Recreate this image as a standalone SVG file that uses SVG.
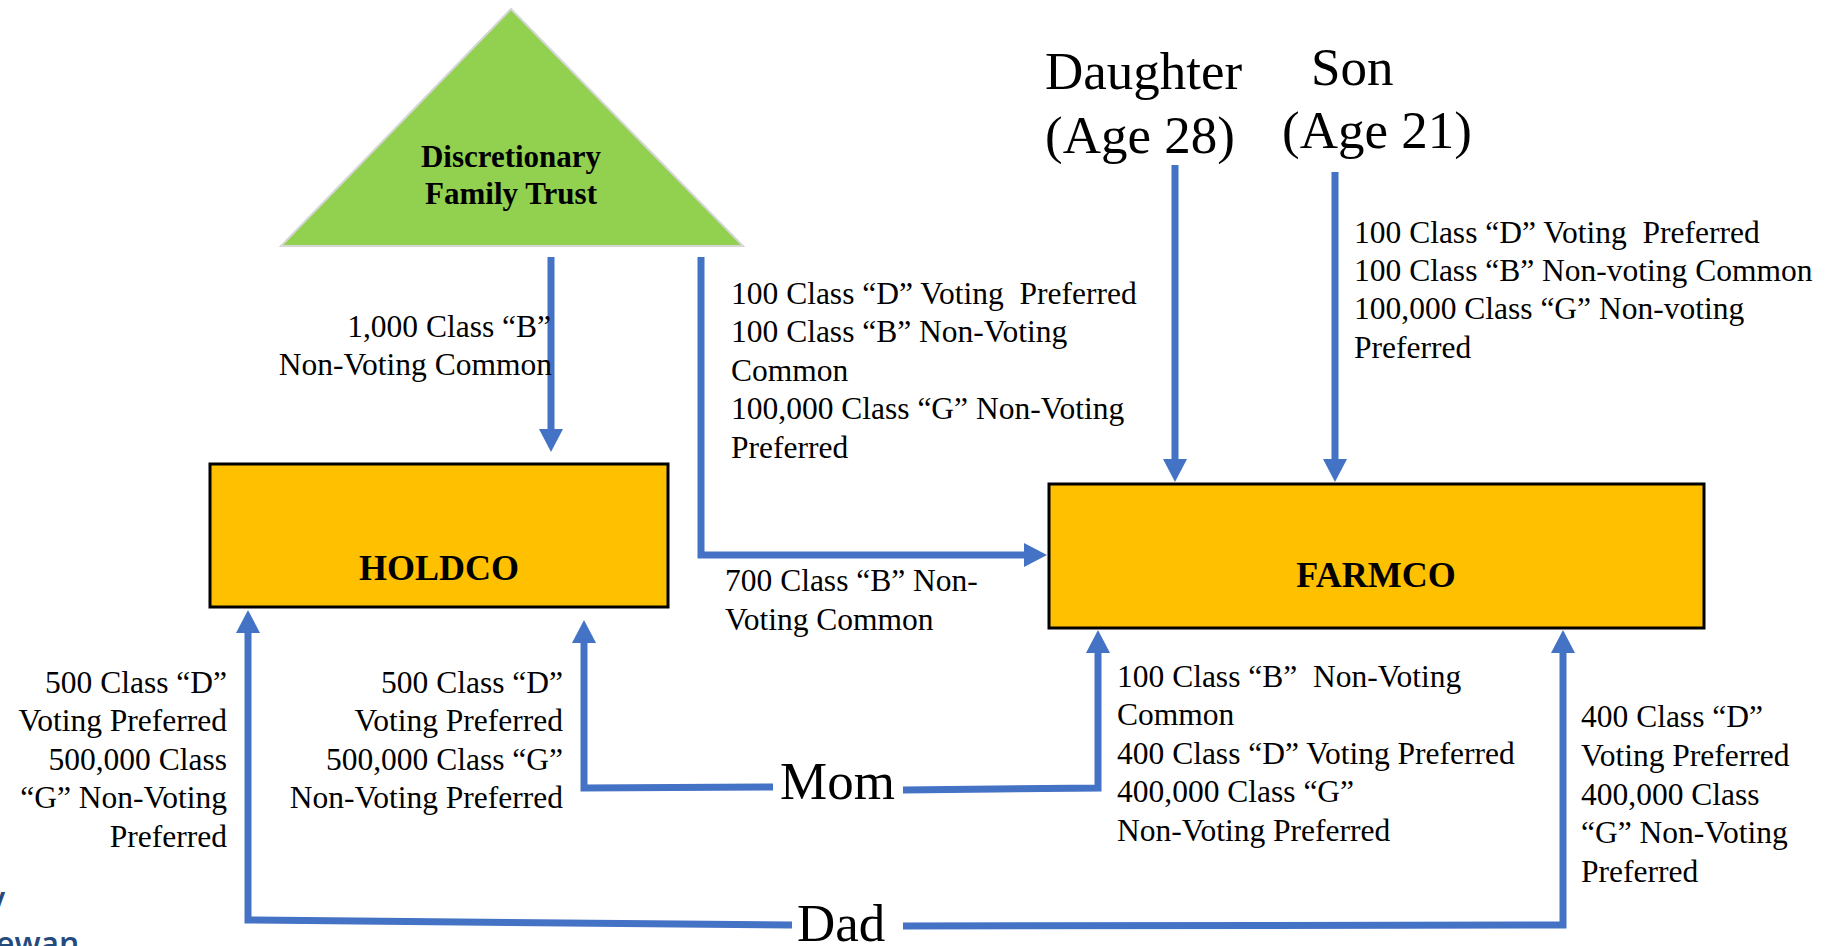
<svg xmlns="http://www.w3.org/2000/svg" width="1834" height="946" viewBox="0 0 1834 946">
<style>
.lbl{font-family:"Liberation Serif","Times New Roman",serif;font-size:31.5px;fill:#000}
.end{text-anchor:end}
.big{font-family:"Liberation Serif","Times New Roman",serif;font-size:53px;fill:#000}
.bold{font-family:"Liberation Serif","Times New Roman",serif;font-weight:bold;fill:#000;text-anchor:middle}
.box{fill:#FFC000;stroke:#000;stroke-width:3}
.con{fill:none;stroke:#4472C4;stroke-width:7;stroke-linejoin:miter}
.logo{font-family:"Open Sans","Liberation Sans",sans-serif;font-weight:600;font-size:32px;fill:#254B7D}
</style>
<defs>
<marker id="ah" markerUnits="userSpaceOnUse" markerWidth="24" markerHeight="24" viewBox="0 0 24 24" refX="1" refY="12" orient="auto">
<path d="M0,0 L23,12 L0,24 z" fill="#4472C4"/>
</marker>
</defs>
<rect width="1834" height="946" fill="#fff"/>

<g id="trust">
<polygon points="511,9 281,246 743,246" fill="#92D050" stroke="#D6D6D6" stroke-width="2"/>
<text class="bold" x="511" y="167" font-size="31">Discretionary</text>
<text class="bold" x="511" y="204" font-size="31">Family Trust</text>
</g>

<g id="holdco">
<rect class="box" x="210" y="464" width="458" height="143"/>
<text class="bold" x="439" y="580" font-size="36">HOLDCO</text>
</g>

<g id="farmco">
<rect class="box" x="1049" y="484" width="655" height="144"/>
<text class="bold" x="1376" y="587" font-size="36">FARMCO</text>
</g>

<g id="daughter">
<text class="big" x="1045" y="89" font-size="52">Daughter</text>
<text class="big" x="1045" y="153" font-size="52">(Age 28)</text>
</g>

<g id="son">
<text class="big" x="1311" y="85" font-size="52">Son</text>
<text class="big" x="1282" y="148" font-size="52">(Age 21)</text>
</g>

<g id="mom">
<text class="big" x="780" y="799">Mom</text>
</g>

<g id="dad">
<text class="big" x="797" y="941">Dad</text>
</g>

<g id="connectors">
<path class="con" d="M551,257 V430" marker-end="url(#ah)"/>
<path class="con" d="M701,257 V555 H1025" marker-end="url(#ah)"/>
<path class="con" d="M1175,165 V460" marker-end="url(#ah)"/>
<path class="con" d="M1335,172 V460" marker-end="url(#ah)"/>
<path class="con" d="M773,787 L584,788 V642" marker-end="url(#ah)"/>
<path class="con" d="M903,790 L1098,788 V652" marker-end="url(#ah)"/>
<path class="con" d="M792,925 L248,920 V632" marker-end="url(#ah)"/>
<path class="con" d="M903,926 L1563,925 V652" marker-end="url(#ah)"/>
</g>

<g id="labels">
<text class="lbl end" x="551" y="337">1,000 Class “B”</text>
<text class="lbl end" x="552" y="375">Non-Voting Common</text>

<text class="lbl" xml:space="preserve"><tspan x="731" y="304">100 Class “D” Voting  Preferred</tspan><tspan x="731" y="342">100 Class “B” Non-Voting</tspan><tspan x="731" y="381">Common</tspan><tspan x="731" y="419">100,000 Class “G” Non-Voting</tspan><tspan x="731" y="458">Preferred</tspan></text>

<text class="lbl" xml:space="preserve"><tspan x="1354" y="243">100 Class “D” Voting  Preferred</tspan><tspan x="1354" y="281">100 Class “B” Non-voting Common</tspan><tspan x="1354" y="319">100,000 Class “G” Non-voting</tspan><tspan x="1354" y="358">Preferred</tspan></text>

<text class="lbl"><tspan x="725" y="591">700 Class “B” Non-</tspan><tspan x="725" y="630">Voting Common</tspan></text>

<text class="lbl end"><tspan x="227" y="693">500 Class “D”</tspan><tspan x="227" y="731">Voting Preferred</tspan><tspan x="227" y="770">500,000 Class</tspan><tspan x="227" y="808">“G” Non-Voting</tspan><tspan x="227" y="847">Preferred</tspan></text>

<text class="lbl end"><tspan x="563" y="693">500 Class “D”</tspan><tspan x="563" y="731">Voting Preferred</tspan><tspan x="563" y="770">500,000 Class “G”</tspan><tspan x="563" y="808">Non-Voting Preferred</tspan></text>

<text class="lbl" xml:space="preserve"><tspan x="1117" y="687">100 Class “B”  Non-Voting</tspan><tspan x="1117" y="725">Common</tspan><tspan x="1117" y="764">400 Class “D” Voting Preferred</tspan><tspan x="1117" y="802">400,000 Class “G”</tspan><tspan x="1117" y="841">Non-Voting Preferred</tspan></text>

<text class="lbl"><tspan x="1581" y="727">400 Class “D”</tspan><tspan x="1581" y="766">Voting Preferred</tspan><tspan x="1581" y="805">400,000 Class</tspan><tspan x="1581" y="843">“G” Non-Voting</tspan><tspan x="1581" y="882">Preferred</tspan></text>
</g>

<g id="logo">
<text class="logo" x="-12" y="910">y</text>
<text class="logo" x="-4" y="955">ewan</text>
</g>
</svg>
